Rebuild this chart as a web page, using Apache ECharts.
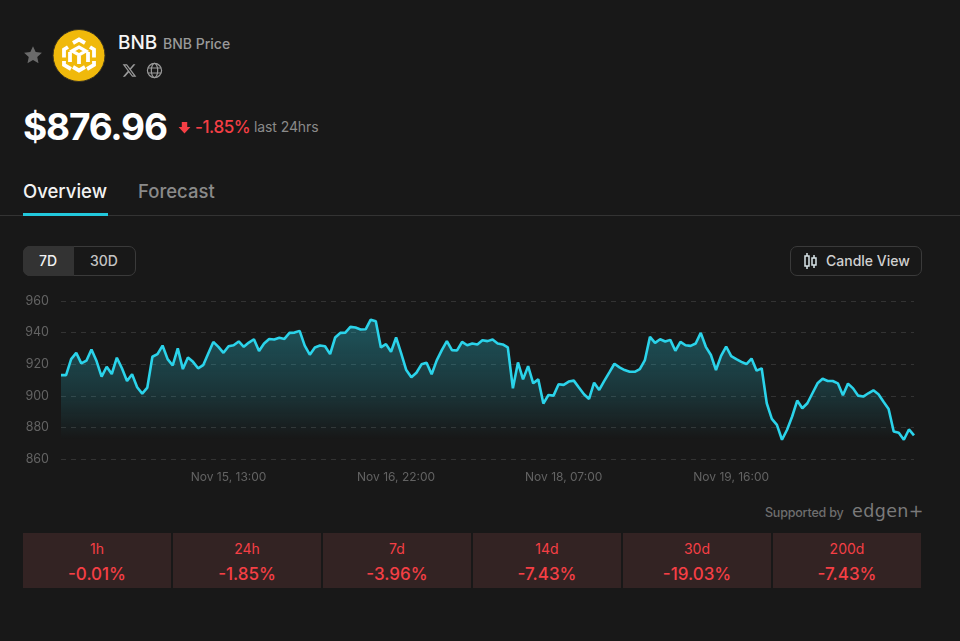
<!DOCTYPE html>
<html>
<head>
<meta charset="utf-8">
<title>BNB Price</title>
<script src="https://cdn.jsdelivr.net/npm/echarts@6/dist/echarts.min.js"></script>
<style>
html,body{margin:0;padding:0;background:#181818;}
body{width:960px;height:641px;position:relative;overflow:hidden;font-family:Inter,"Noto Sans",sans-serif;color:#fff;}
.t{position:absolute;white-space:nowrap;line-height:1;}
.ic{position:absolute;}
#chart{position:absolute;left:0;top:285px;width:960px;height:205px;}
.cell{position:absolute;top:533px;width:148px;height:55px;background:#332323;color:#f53f45;text-align:center;}
.cell .a{position:absolute;left:0;right:0;top:7px;font-size:14px;line-height:18px;}
.cell .b{position:absolute;left:0;right:0;top:30px;font-size:17px;line-height:22px;font-weight:500;}
.box{position:absolute;box-sizing:border-box;border:1px solid #3a3a3a;border-radius:7px;}
</style>
</head>
<body>

<svg class="ic" style="left:23px;top:45px" width="20" height="20" viewBox="0 0 24 24"><path fill="#6a6a6a" d="M12 1.500l3.200 6.900 7.500.9-5.600 5.100 1.500 7.400-6.600-3.700-6.600 3.700 1.500-7.400L1.300 9.300l7.500-.9z"/></svg>

<svg class="ic" style="left:52px;top:28px" width="54" height="54" viewBox="0 0 54 54">
  <circle cx="27" cy="27.500" r="26" fill="#F0B90B" stroke="#3a3320" stroke-width="1"/>
  <g fill="none" stroke="#fff" stroke-width="3.800" stroke-linejoin="miter">
    <path d="M21 15l6-3.500 6 3.500"/>
    <path d="M20 23l7-4 7 4-7 4z" stroke-width="3.200"/>
    <path d="M16 19l-4 2.500v8"/>
    <path d="M38 19l4 2.500v8"/>
    <path d="M18 24v10"/>
    <path d="M36 24v10"/>
    <path d="M12 33v4l7 4"/>
    <path d="M42 33v4l-7 4"/>
    <path d="M27 28v8"/>
    <path d="M21 39l6 3.500 6-3.500"/>
  </g>
</svg>

<div class="t" style="left:118px;top:33px;font-size:19px;font-weight:500;color:#f5f5f5">BNB</div>
<div class="t" style="left:163px;top:37px;font-size:14px;font-weight:500;color:#9a9a9a">BNB Price</div>

<svg class="ic" style="left:122px;top:63px" width="15" height="15" viewBox="0 0 24 24"><path fill="#9a9a9a" d="M18.200 2h3.400l-7.400 8.500L23 22h-6.800l-5.300-7-6.100 7H1.300l7.900-9.100L1 2h7l4.800 6.400zm-1.200 18h1.900L7 3.900H5z"/></svg>
<svg class="ic" style="left:146px;top:62px" width="17" height="17" viewBox="0 0 24 24" fill="none" stroke="#9a9a9a" stroke-width="1.700"><circle cx="12" cy="12" r="10"/><ellipse cx="12" cy="12" rx="4.500" ry="10"/><path d="M2.500 8.500h19M2.500 15.500h19"/></svg>

<div class="t" style="left:23px;top:108px;font-size:37px;font-weight:700;letter-spacing:-1.200px;color:#fff">$876.96</div>
<svg class="ic" style="left:178px;top:121px" width="13" height="13" viewBox="0 0 12 12"><path fill="#f53f45" d="M3.500 1h5v4.500h3L6 11.500.5 5.500h3z"/></svg>
<div class="t" style="left:195px;top:119px;font-size:17px;font-weight:500;letter-spacing:-0.4px;color:#f53f45">-1.85%</div>
<div class="t" style="left:254px;top:120px;font-size:14px;letter-spacing:-0.1px;color:#8a8a8a">last 24hrs</div>

<div class="t" style="left:23px;top:182px;font-size:18.500px;font-weight:500;color:#f2f2f2">Overview</div>
<div class="t" style="left:138px;top:182px;font-size:18.500px;font-weight:500;color:#8a8a8a">Forecast</div>
<div class="ic" style="left:0;top:215px;width:960px;height:1px;background:#333"></div>
<div class="ic" style="left:23px;top:213px;width:85px;height:3px;background:#22c8dc"></div>

<div class="box" style="left:23px;top:246px;width:113px;height:30px"></div>
<div class="ic" style="left:23px;top:246px;width:51px;height:30px;background:#333;border-radius:7px 0 0 7px"></div>
<div class="t" style="left:39px;top:254px;font-size:14px;font-weight:500;color:#f2f2f2">7D</div>
<div class="t" style="left:90px;top:254px;font-size:14px;font-weight:500;color:#c4c4c4">30D</div>

<div class="box" style="left:790px;top:246px;width:132px;height:30px"></div>
<svg class="ic" style="left:803px;top:252px" width="15" height="18" viewBox="0 0 15 18" fill="none" stroke="#d8e4e8" stroke-width="1.500"><path d="M4 1v16M11 3v13"/><rect x="2" y="4" width="4" height="10" fill="#181818"/><rect x="9" y="6" width="4" height="7" fill="#181818"/></svg>
<div class="t" style="left:826px;top:254px;font-size:14px;font-weight:500;color:#d0d0d0">Candle View</div>

<div id="chart"></div>

<div class="t" style="left:765px;top:507px;font-size:12.500px;font-weight:500;color:#6e6e6e;letter-spacing:-0.2px">Supported by</div>
<div class="t" style="left:852px;top:503px;font-size:17.500px;color:#7a7a7a;letter-spacing:0.400px;font-family:'DejaVu Sans',sans-serif">edgen+</div>

<script>
// chart data, hourly closes
var prices = [
	913.1,913.1,923.2,927.2,920.5,922.2,929.3,922.0,912.1,918.4,
	913.8,924.1,917.4,909.4,913.6,905.4,901.4,905.2,924.7,926.4,
	931.8,923.2,919.2,930.0,916.9,924.3,921.5,917.4,919.4,926.8,
	934.1,931.0,927.2,931.4,932.0,934.4,931.0,933.7,935.8,928.3,
	933.1,936.0,935.6,936.7,936.0,939.8,940.0,941.1,931.8,926.0,
	930.6,931.8,931.4,926.4,936.9,939.8,940.0,943.6,943.2,942.0,
	942.1,948.2,947.2,930.6,932.7,927.9,936.9,926.8,916.3,911.7,
	914.6,919.9,920.9,913.6,922.4,928.9,934.6,928.9,928.7,934.1,
	932.0,933.1,932.5,935.2,934.6,935.6,933.1,932.5,930.6,904.7,
	921.1,910.4,918.8,907.9,910.4,895.1,900.5,900.1,907.3,906.9,
	909.0,909.6,905.2,901.0,898.0,908.3,903.7,909.4,914.8,920.3,
	918.0,916.3,915.2,915.2,916.9,922.6,937.3,933.5,935.8,934.4,
	935.4,928.5,934.1,932.0,931.6,933.1,939.8,931.0,925.8,916.3,
	925.3,931.2,925.1,923.2,921.5,920.1,923.6,915.9,917.4,895.3,
	885.4,881.6,872.2,878.5,886.9,897.0,892.1,895.3,901.6,907.9,
	910.8,909.4,909.4,907.9,900.3,907.7,904.7,900.1,899.5,901.6,
	903.5,901.0,896.3,891.7,877.4,876.6,872.2,878.7,874.9
];
var xTicks = {33:'Nov 15, 13:00',66:'Nov 16, 22:00',99:'Nov 18, 07:00',132:'Nov 19, 16:00'};
var periods = ['1h','24h','7d','14d','30d','200d'];
var changes = ['-0.01%','-1.85%','-3.96%','-7.43%','-19.03%','-7.43%'];

var categories = [];
for(var i=0;i<prices.length;i++){
	categories.push(xTicks[i] || '');
}

for(var c=0;c<periods.length;c++){
	var el = document.createElement('div');
	el.className = 'cell';
	el.style.left = (23+150*c)+'px';
	el.innerHTML = '<div class="a">'+periods[c]+'</div><div class="b">'+changes[c]+'</div>';
	document.body.appendChild(el);
}

var chart = echarts.init(document.getElementById('chart'));
chart.setOption({
	animation:false,
	grid:{left:61,right:46,top:16,bottom:31},
	xAxis:{
		type:'category',
		boundaryGap:false,
		data:categories,
		axisLine:{show:false},
		axisTick:{show:false},
		splitLine:{show:false},
		axisLabel:{
			interval:function(idx){ return !!xTicks[idx]; },
			color:'#636363',
			fontFamily:'Inter',
			fontSize:12,
			margin:12
		}
	},
	yAxis:{
		type:'value',
		min:860,
		max:960,
		interval:20,
		axisLine:{show:false},
		axisTick:{show:false},
		axisLabel:{color:'#636363',fontFamily:'Inter',fontSize:12.5,margin:12},
		splitLine:{lineStyle:{color:'#333',type:[5,5],width:1}}
	},
	series:[{
		type:'line',
		data:prices,
		symbol:'none',
		smooth:false,
		lineStyle:{color:'#2bd3ea',width:2.6},
		areaStyle:{
			color:new echarts.graphic.LinearGradient(0,0,0,1,[
				{offset:0,color:'rgba(43,208,230,0.48)'},
				{offset:0.5,color:'rgba(43,208,230,0.24)'},
				{offset:0.78,color:'rgba(43,208,230,0.05)'},
				{offset:0.86,color:'rgba(43,208,230,0)'},
				{offset:1,color:'rgba(43,208,230,0)'}
			])
		}
	}]
});
</script>
</body>
</html>
